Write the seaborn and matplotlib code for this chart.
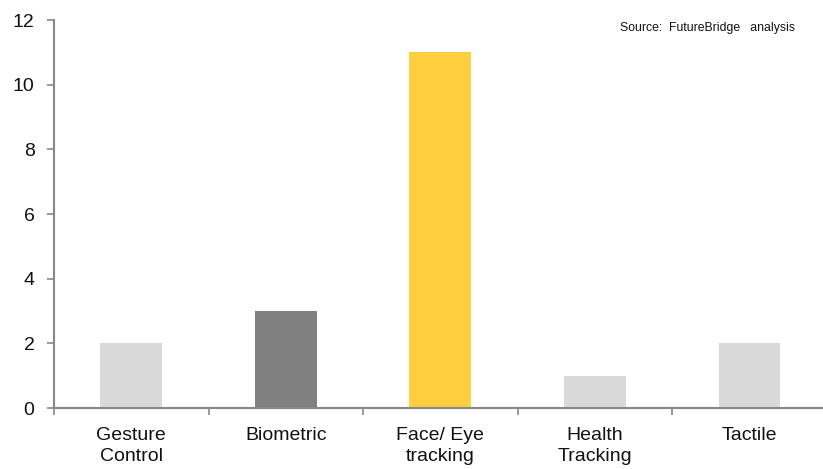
import matplotlib
matplotlib.use("Agg")
import matplotlib.pyplot as plt
import seaborn as sns
import pandas as pd
import numpy as np

categories = ["Gesture\nControl", "Biometric", "Face/ Eye\ntracking", "Health\nTracking", "Tactile"]
counts = [2, 3, 11, 1, 2]
bar_colors = ["#D9D9D9", "#808080", "#FFCF40", "#D9D9D9", "#D9D9D9"]
y_ticks = [0, 2, 4, 6, 8, 10, 12]

sns.set_style("white")
plt.rcParams["font.family"] = ["Liberation Sans", "DejaVu Sans"]

df = pd.DataFrame({"category": categories, "count": counts})

fig = plt.figure(figsize=(8.23, 4.69), dpi=100)
ax = fig.add_axes([0.0656, 0.130, 0.939, 0.827])

sns.barplot(data=df, x="category", y="count", hue="category",
            palette=bar_colors, legend=False, width=0.4,
            saturation=1, linewidth=0, ax=ax)

ax.set_xlim(-0.5, len(categories) - 0.5)
ax.set_ylim(0, 12)
ax.set_yticks(y_ticks)
ax.set_yticklabels([str(t) for t in y_ticks], fontsize=14, color="#111111")
ax.set_xlabel("")
ax.set_ylabel("")

# category labels at bar centres, tick marks at category boundaries
ax.set_xticks(range(len(categories)))
ax.set_xticklabels(categories, fontsize=14, color="#111111", linespacing=1.3)
ax.tick_params(axis="x", which="major", length=0, pad=14)
ax.set_xticks(np.arange(-0.5, len(categories) + 0.5, 1.0), minor=True)
ax.tick_params(axis="x", which="minor", length=5, width=1.2, color="#888888", direction="out", bottom=True)
ax.tick_params(axis="y", which="major", length=5, width=1.2, color="#888888", direction="out", left=True, pad=9)

for side in ["top", "right"]:
    ax.spines[side].set_visible(False)
for side in ["left", "bottom"]:
    ax.spines[side].set_color("#888888")
    ax.spines[side].set_linewidth(1.5)

fig.text(0.966, 0.940, "Source:  FutureBridge   analysis", fontsize=8.8,
         ha="right", va="center", color="#111111")

fig.savefig("out.png", dpi=100)
